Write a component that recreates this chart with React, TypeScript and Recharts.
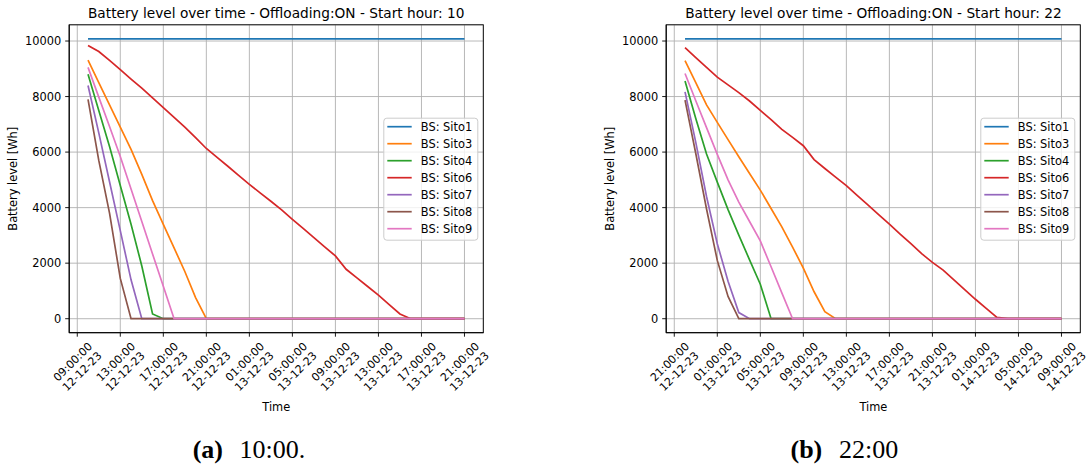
import React from 'react';
import { LineChart, Line, XAxis, YAxis, CartesianGrid } from 'recharts';

const FONT = "'DejaVu Sans', sans-serif";
const SERIF = "'Liberation Serif', 'DejaVu Serif', serif";

// ---------- Data: chart (a), start hour 10 (hours counted from 12-12-23 00:00) ----------
const hoursA = [
  10, 11, 12, 13, 14, 15, 16, 17, 18, 19, 20, 21,
  22, 23, 24, 25, 26, 27, 28, 29, 30, 31, 32, 33,
  34, 35, 36, 37, 38, 39, 40, 41, 42, 43, 44, 45,
];
const sito1A = [
  10080, 10080, 10080, 10080, 10080, 10080, 10080, 10080, 10080, 10080, 10080, 10080,
  10080, 10080, 10080, 10080, 10080, 10080, 10080, 10080, 10080, 10080, 10080, 10080,
  10080, 10080, 10080, 10080, 10080, 10080, 10080, 10080, 10080, 10080, 10080, 10080,
];
const sito3A = [
  9310, 8500, 7700, 6900, 6100, 5200, 4250, 3400, 2550, 1700, 760, 0,
  0, 0, 0, 0, 0, 0, 0, 0, 0, 0, 0, 0,
  0, 0, 0, 0, 0, 0, 0, 0, 0, 0, 0, 0,
];
const sito4A = [
  8800, 7500, 6200, 4800, 3400, 1900, 170, 0, 0, 0, 0, 0,
  0, 0, 0, 0, 0, 0, 0, 0, 0, 0, 0, 0,
  0, 0, 0, 0, 0, 0, 0, 0, 0, 0, 0, 0,
];
const sito6A = [
  9840, 9620, 9300, 8970, 8630, 8300, 7950, 7600, 7250, 6900, 6520, 6130,
  5810, 5490, 5160, 4840, 4530, 4230, 3920, 3580, 3250, 2920, 2590, 2260,
  1780, 1470, 1160, 850, 510, 170, 0, 0, 0, 0, 0, 0,
];
const sito7A = [
  8400, 6690, 4930, 3170, 1400, 0, 0, 0, 0, 0, 0, 0,
  0, 0, 0, 0, 0, 0, 0, 0, 0, 0, 0, 0,
  0, 0, 0, 0, 0, 0, 0, 0, 0, 0, 0, 0,
];
const sito8A = [
  7900, 5700, 3800, 1450, 0, 0, 0, 0, 0, 0, 0, 0,
  0, 0, 0, 0, 0, 0, 0, 0, 0, 0, 0, 0,
  0, 0, 0, 0, 0, 0, 0, 0, 0, 0, 0, 0,
];
const sito9A = [
  9050, 7980, 6920, 5840, 4670, 3500, 2330, 1170, 0, 0, 0, 0,
  0, 0, 0, 0, 0, 0, 0, 0, 0, 0, 0, 0,
  0, 0, 0, 0, 0, 0, 0, 0, 0, 0, 0, 0,
];
const ticksA = [9, 13, 17, 21, 25, 29, 33, 37, 41, 45];
const tickLabelsA = [
  ['09:00:00', '12-12-23'], ['13:00:00', '12-12-23'], ['17:00:00', '12-12-23'],
  ['21:00:00', '12-12-23'], ['01:00:00', '13-12-23'], ['05:00:00', '13-12-23'],
  ['09:00:00', '13-12-23'], ['13:00:00', '13-12-23'], ['17:00:00', '13-12-23'],
  ['21:00:00', '13-12-23'],
];

// ---------- Data: chart (b), start hour 22 ----------
const hoursB = [
  22, 23, 24, 25, 26, 27, 28, 29, 30, 31, 32, 33,
  34, 35, 36, 37, 38, 39, 40, 41, 42, 43, 44, 45,
  46, 47, 48, 49, 50, 51, 52, 53, 54, 55, 56, 57,
];
const sito1B = [
  10080, 10080, 10080, 10080, 10080, 10080, 10080, 10080, 10080, 10080, 10080, 10080,
  10080, 10080, 10080, 10080, 10080, 10080, 10080, 10080, 10080, 10080, 10080, 10080,
  10080, 10080, 10080, 10080, 10080, 10080, 10080, 10080, 10080, 10080, 10080, 10080,
];
const sito3B = [
  9290, 8500, 7700, 7070, 6450, 5830, 5230, 4630, 3970, 3310, 2580, 1820,
  970, 250, 0, 0, 0, 0, 0, 0, 0, 0, 0, 0,
  0, 0, 0, 0, 0, 0, 0, 0, 0, 0, 0, 0,
];
const sito4B = [
  8560, 7210, 5930, 4920, 3930, 3010, 2120, 1240, 0, 0, 0, 0,
  0, 0, 0, 0, 0, 0, 0, 0, 0, 0, 0, 0,
  0, 0, 0, 0, 0, 0, 0, 0, 0, 0, 0, 0,
];
const sito6B = [
  9760, 9400, 9050, 8700, 8420, 8140, 7840, 7500, 7170, 6820, 6530, 6230,
  5730, 5410, 5100, 4790, 4440, 4100, 3750, 3410, 3050, 2700, 2340, 2030,
  1750, 1400, 1050, 700, 370, 50, 0, 0, 0, 0, 0, 0,
];
const sito7B = [
  8170, 6350, 4400, 2700, 1350, 220, 0, 0, 0, 0, 0, 0,
  0, 0, 0, 0, 0, 0, 0, 0, 0, 0, 0, 0,
  0, 0, 0, 0, 0, 0, 0, 0, 0, 0, 0, 0,
];
const sito8B = [
  7870, 5950, 3950, 2100, 800, 0, 0, 0, 0, 0, 0, 0,
  0, 0, 0, 0, 0, 0, 0, 0, 0, 0, 0, 0,
  0, 0, 0, 0, 0, 0, 0, 0, 0, 0, 0, 0,
];
const sito9B = [
  8830, 7850, 6880, 5920, 5000, 4200, 3500, 2800, 1870, 930, 0, 0,
  0, 0, 0, 0, 0, 0, 0, 0, 0, 0, 0, 0,
  0, 0, 0, 0, 0, 0, 0, 0, 0, 0, 0, 0,
];
const ticksB = [21, 25, 29, 33, 37, 41, 45, 49, 53, 57];
const tickLabelsB = [
  ['21:00:00', '12-12-23'], ['01:00:00', '13-12-23'], ['05:00:00', '13-12-23'],
  ['09:00:00', '13-12-23'], ['13:00:00', '13-12-23'], ['17:00:00', '13-12-23'],
  ['21:00:00', '13-12-23'], ['01:00:00', '14-12-23'], ['05:00:00', '14-12-23'],
  ['09:00:00', '14-12-23'],
];

// ---------- Shared ----------
const seriesNames = ['BS: Sito1', 'BS: Sito3', 'BS: Sito4', 'BS: Sito6', 'BS: Sito7', 'BS: Sito8', 'BS: Sito9'];
const seriesKeys = ['s1', 's3', 's4', 's6', 's7', 's8', 's9'];
const seriesColors = ['#1f77b4', '#ff7f0e', '#2ca02c', '#d62728', '#9467bd', '#8c564b', '#e377c2'];
const yTicks = [0, 2000, 4000, 6000, 8000, 10000];
const yDomain = [-504, 10584];

function buildRows(hours: number[], cols: number[][]) {
  return hours.map((t, i) => {
    const row: any = { t };
    seriesKeys.forEach((k, j) => { row[k] = cols[j][i]; });
    return row;
  });
}

const rowsA = buildRows(hoursA, [sito1A, sito3A, sito4A, sito6A, sito7A, sito8A, sito9A]);
const rowsB = buildRows(hoursB, [sito1B, sito3B, sito4B, sito6B, sito7B, sito8B, sito9B]);

const TICK_FS = 11.4;
const XTICK_FS = 11;

// plot-area geometry inside each chart box
const PLOT_L = 69.2;
const PLOT_T = 24.8;
const PLOT_R = 483.3;
const PLOT_B = 332.7;
const CHART_H = 470;

function makeTimeTick(ticks: number[], labels: string[][]) {
  return (props: any) => {
    const { x, y, payload } = props;
    const i = ticks.indexOf(payload.value);
    const lab = labels[i] || ['', ''];
    return (
      <g transform={`translate(${x},${y + 27.8}) rotate(-45)`}>
        <text textAnchor="middle" fontSize={XTICK_FS} fontFamily={FONT} fill="#000">
          <tspan x={0} y={-2.7}>{lab[0]}</tspan>
          <tspan x={0} y={10.6}>{lab[1]}</tspan>
        </text>
      </g>
    );
  };
}

const LegendBox = ({ x, y }: { x: number; y: number }) => (
  <g transform={`translate(${x},${y})`}>
    <rect x={0.5} y={0.5} width={94} height={122} rx={3} ry={3} fill="#ffffff" fillOpacity={0.8} stroke="#cccccc" strokeWidth={1} />
    {seriesNames.map((n, i) => (
      <g key={n}>
        <line x1={4} x2={28.4} y1={9 + 17 * i} y2={9 + 17 * i} stroke={seriesColors[i]} strokeWidth={1.7} />
        <text x={37.5} y={9 + 17 * i + 4.1} fontSize={TICK_FS} fontFamily={FONT} fill="#000">{n}</text>
      </g>
    ))}
  </g>
);

type ChartProps = {
  left: number;
  width: number;
  rows: any[];
  ticks: number[];
  tickLabels: string[][];
  domain: number[];
};

function BatteryChart({ left, width, rows, ticks, tickLabels, domain }: ChartProps) {
  const TimeTick = makeTimeTick(ticks, tickLabels);
  return (
    <div style={{ position: 'absolute', left, top: 0, width, height: CHART_H }}>
      <LineChart
        width={width}
        height={CHART_H}
        data={rows}
        margin={{ top: PLOT_T, right: width - PLOT_R, bottom: CHART_H - PLOT_B - 60, left: PLOT_L - 60 }}
      >
        <CartesianGrid stroke="#b0b0b0" strokeWidth={0.9} />
        <XAxis
          dataKey="t"
          type="number"
          domain={domain}
          ticks={ticks}
          interval={0}
          allowDataOverflow
          height={60}
          tickSize={4}
          tickLine={{ stroke: '#000', strokeWidth: 0.9 }}
          axisLine={{ stroke: '#000', strokeWidth: 0.9 }}
          tick={TimeTick}
        />
        <YAxis
          type="number"
          domain={yDomain}
          ticks={yTicks}
          interval={0}
          allowDataOverflow
          width={60}
          tickSize={4}
          tickMargin={4}
          tickLine={{ stroke: '#000', strokeWidth: 0.9 }}
          axisLine={{ stroke: '#000', strokeWidth: 0.9 }}
          tick={{ fill: '#000', fontSize: TICK_FS, fontFamily: FONT }}
        />
        {seriesKeys.map((k, i) => (
          <Line
            key={k}
            dataKey={k}
            name={seriesNames[i]}
            type="linear"
            stroke={seriesColors[i]}
            strokeWidth={1.7}
            dot={false}
            activeDot={false}
            isAnimationActive={false}
          />
        ))}
      </LineChart>
      <svg width={width} height={CHART_H} style={{ position: 'absolute', left: 0, top: 0, pointerEvents: 'none' }}>
        <rect
          x={PLOT_L}
          y={PLOT_T}
          width={PLOT_R - PLOT_L}
          height={PLOT_B - PLOT_T}
          fill="none"
          stroke="#000"
          strokeWidth={0.9}
        />
        <LegendBox x={383.3} y={117.7} />
      </svg>
    </div>
  );
}

export default function App() {
  return (
    <div style={{ position: 'absolute', left: 0, top: 0, width: 1088, height: 470, background: '#fff', fontFamily: FONT }}>
      <BatteryChart left={0} width={560} rows={rowsA} ticks={ticksA} tickLabels={tickLabelsA} domain={[8.25, 46.75]} />
      <BatteryChart left={597} width={491} rows={rowsB} ticks={ticksB} tickLabels={tickLabelsB} domain={[20.25, 58.75]} />
      <svg width={1088} height={470} style={{ position: 'absolute', left: 0, top: 0, pointerEvents: 'none' }}>
        <text x={276.25} y={18} textAnchor="middle" fontSize={13.7} fontFamily={FONT} fill="#000">
          Battery level over time - Offloading:ON - Start hour: 10
        </text>
        <text x={873.4} y={18} textAnchor="middle" fontSize={13.7} fontFamily={FONT} fill="#000">
          Battery level over time - Offloading:ON - Start hour: 22
        </text>
        <text transform="translate(17,178.75) rotate(-90)" textAnchor="middle" fontSize={TICK_FS} fontFamily={FONT} fill="#000">
          Battery level [Wh]
        </text>
        <text transform="translate(614,178.75) rotate(-90)" textAnchor="middle" fontSize={TICK_FS} fontFamily={FONT} fill="#000">
          Battery level [Wh]
        </text>
        <text x={276.25} y={411} textAnchor="middle" fontSize={TICK_FS} fontFamily={FONT} fill="#000">Time</text>
        <text x={873.4} y={411} textAnchor="middle" fontSize={TICK_FS} fontFamily={FONT} fill="#000">Time</text>
        <text y={458} fontSize={26} fontFamily={SERIF} fill="#000">
          <tspan x={192.7} fontWeight="bold">(a)</tspan>
          <tspan x={239.6}>10:00.</tspan>
        </text>
        <text y={458} fontSize={26} fontFamily={SERIF} fill="#000">
          <tspan x={790.5} fontWeight="bold">(b)</tspan>
          <tspan x={839}>22:00</tspan>
        </text>
      </svg>
    </div>
  );
}
